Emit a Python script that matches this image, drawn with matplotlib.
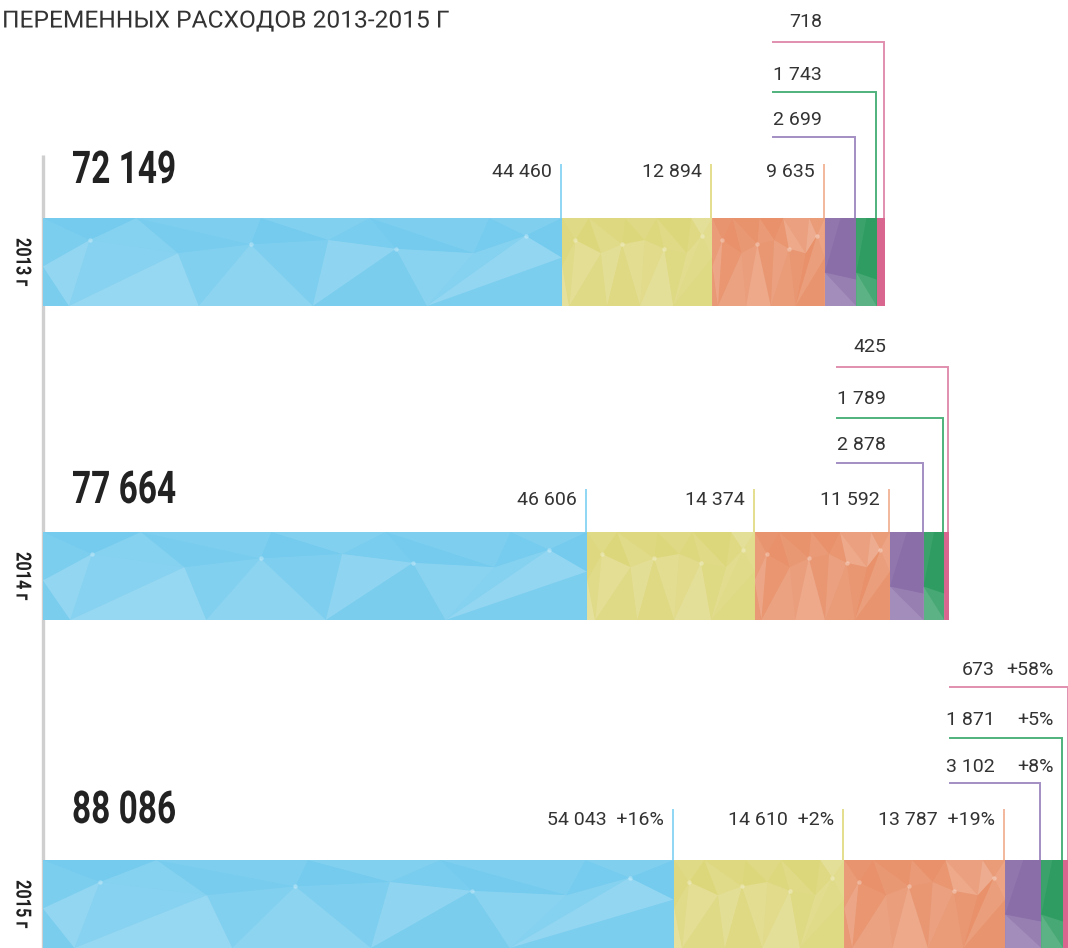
import numpy as np
import matplotlib
matplotlib.use("Agg")
import matplotlib.pyplot as plt
from matplotlib.patheffects import AbstractPathEffect
from matplotlib.transforms import Affine2D

# data
years = ["2013 г", "2014 г", "2015 г"]
totals = [72149, 77664, 88086]
blue = [44460, 46606, 54043]
yellow = [12894, 14374, 14610]
orange = [9635, 11592, 13787]
purple = [2699, 2878, 3102]
green = [1743, 1789, 1871]
pink = [718, 425, 673]
growth_2015 = ["+16%", "+2%", "+19%", "+8%", "+5%", "+58%"]
title = "ПЕРЕМЕННЫХ РАСХОДОВ 2013-2015 Г"

series = [blue, yellow, orange, purple, green, pink]
fills = ["#74cbee", "#ddd77c", "#e8916a", "#8a6ea8", "#2f9d62", "#d9668f"]
lines = ["#8fd6f3", "#e4de8e", "#f2b89c", "#a48ec3", "#4fb27c", "#e08fae"]

TXT = "#333333"
FONT = ["Roboto", "DejaVu Sans"]


class Squeeze(AbstractPathEffect):
    """Scale glyphs along the text direction (fake condensed / wide face)."""

    def __init__(self, sx):
        super().__init__()
        self.sx = sx

    def draw_path(self, renderer, gc, tpath, affine, rgbFace=None):
        renderer.draw_path(gc, tpath, Affine2D().scale(self.sx, 1) + affine, rgbFace)


def fmt(v):
    return f"{v:,}".replace(",", " ")


def strip(a, b):
    """Triangulate between two rows of points sorted by x."""
    tris = []
    i = j = 0
    while i < len(a) - 1 or j < len(b) - 1:
        if j >= len(b) - 1 or (i < len(a) - 1 and a[i + 1][0] <= b[j + 1][0]):
            tris.append([a[i], a[i + 1], b[j]])
            i += 1
        else:
            tris.append([a[i], b[j], b[j + 1]])
            j += 1
    return tris


W, H = 1068, 948
X0 = 43                      # pixel where bars start
U = totals[0] / 842.0        # data units per pixel

fig = plt.figure(figsize=(W / 100, H / 100), dpi=100)
ax = fig.add_axes([0, 0, 1, 1])
ax.set_xlim(-X0 * U, (W - X0) * U)
ax.set_ylim(H, 0)
ax.axis("off")

bar_top = [218, 532, 860]
bar_h = 88
big_lbl_y = [172, 500, 820]
big_line_top = [165, 490, 810]
total_y = [171, 491, 811]
small_lbl_y = [[120, 75, 22], [445, 399, 347], [767, 720, 670]]
small_line_y = [[137, 92, 42], [463, 418, 367], [783, 738, 687]]
small_start = [-112, -112, -121]

# low-poly facet pattern, in fractions of a segment (x, y down)
row_top = [(0.0, 0.0), (0.18, 0.0), (0.42, 0.0), (0.63, 0.0), (0.86, 0.0), (1.0, 0.0)]
row_mid = [(0.0, 0.55), (0.09, 0.25), (0.26, 0.4), (0.4, 0.3), (0.55, 0.25),
           (0.68, 0.35), (0.83, 0.4), (0.93, 0.2), (1.0, 0.45)]
row_bot = [(0.0, 1.0), (0.05, 1.0), (0.3, 1.0), (0.52, 1.0), (0.74, 1.0), (1.0, 1.0)]
facets = strip(row_top, row_mid) + strip(row_mid, row_bot)
facet_alpha = [0.06, 0.0, 0.12, 0.03, 0.08, 0.0, 0.1, 0.04, 0.0, 0.07, 0.02, 0.09, 0.0, 0.05,
               0.22, 0.14, 0.25, 0.1, 0.18, 0.08, 0.2, 0.05, 0.16, 0.12, 0.22, 0.06, 0.15, 0.1]
# simple facets for the narrow segments
narrow_facets = [[(0.0, 0.62), (1.0, 0.7), (1.0, 1.0)], [(0.0, 0.62), (1.0, 1.0), (0.0, 1.0)],
                 [(0.0, 0.0), (0.5, 0.0), (0.0, 0.62)]]
narrow_alpha = [0.12, 0.22, 0.06]

# axis line
ax.plot([0, 0], [155, H], color="#cfcfcf", lw=2.4, solid_capstyle="butt", zorder=1)

for i in range(3):
    cy = bar_top[i] + bar_h / 2
    left = 0
    for s, vals in enumerate(series):
        v = vals[i]
        ax.barh(cy, v, left=left, height=bar_h, color=fills[s], lw=0, zorder=2)
        if s < 3:
            tris, alphas = facets, facet_alpha
        elif s < 5:
            tris, alphas = narrow_facets, narrow_alpha
        else:
            tris, alphas = [], []
        for k, tri in enumerate(tris):
            a = alphas[(k + 3 * s) % len(alphas)]
            if a > 0:
                ax.fill([left + p[0] * v for p in tri],
                        [bar_top[i] + p[1] * bar_h for p in tri],
                        color="white", alpha=a, lw=0, zorder=3)
        if s < 3:
            ax.scatter([left + p[0] * v for p in row_mid[1:-1:2]],
                       [bar_top[i] + p[1] * bar_h for p in row_mid[1:-1:2]],
                       s=10, color="white", alpha=0.3, lw=0, zorder=4)
        left += v

    # total
    ax.text(29 * U, total_y[i], fmt(totals[i]), fontsize=32.5, fontweight="bold",
            family=FONT, color="#222222", ha="left", va="center",
            path_effects=[Squeeze(0.74)])
    # year
    ax.text(-21 * U, cy + 7, years[i], rotation=270, fontsize=15, fontweight="bold",
            family=FONT, color="#222222", ha="center", va="center",
            path_effects=[Squeeze(0.78)])

    # big segments: vertical tick + label
    ends = np.cumsum([vals[i] for vals in series])
    for s in range(3):
        xe = ends[s] - 1 * U
        ax.plot([xe, xe], [big_line_top[i], bar_top[i]], color=lines[s], lw=1.4, zorder=1)
        txt = fmt(series[s][i])
        if i == 2:
            txt += "  " + growth_2015[s]
        ax.text(xe - 9 * U, big_lbl_y[i], txt, fontsize=14, family=FONT,
                color=TXT, ha="right", va="center")

    # small segments: elbow lines + labels
    hx = totals[i] + small_start[i] * U
    for k, s in enumerate([3, 4, 5]):
        xe = ends[s] - 1 * U
        yh = small_line_y[i][k]
        xr = min(xe, (W - X0) * U)
        ax.plot([hx, xr, xr], [yh, yh, bar_top[i]], color=lines[s], lw=1.4, zorder=1,
                solid_joinstyle="miter")
        if i < 2:
            ax.text(hx + 49 * U, small_lbl_y[i][k], fmt(series[s][i]), fontsize=14,
                    family=FONT, color=TXT, ha="right", va="center")
        else:
            ax.text(hx + 45 * U, small_lbl_y[i][k], fmt(series[s][i]), fontsize=14,
                    family=FONT, color=TXT, ha="right", va="center")
            ax.text(hx + 104 * U, small_lbl_y[i][k], growth_2015[s], fontsize=14,
                    family=FONT, color=TXT, ha="right", va="center")

ax.text(-41 * U, 21, title, fontsize=17, family=FONT, color=TXT,
        ha="left", va="center", path_effects=[Squeeze(1.04)])

fig.savefig("out.png", dpi=100)
